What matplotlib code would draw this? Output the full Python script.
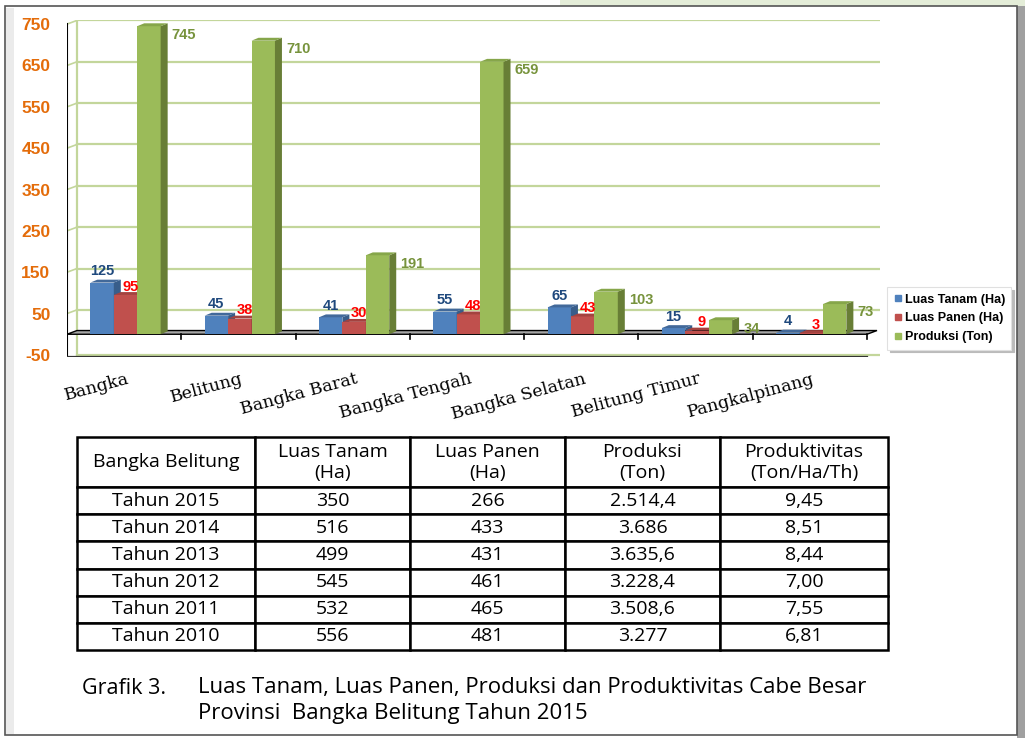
import numpy as np
import matplotlib.pyplot as plt
from matplotlib.patches import Rectangle
from matplotlib.lines import Line2D

# ---- data ----
kabupaten = ['Bangka', 'Belitung', 'Bangka Barat', 'Bangka Tengah',
             'Bangka Selatan', 'Belitung Timur', 'Pangkalpinang']
luas_tanam = [125, 45, 41, 55, 65, 15, 4]
luas_panen = [95, 38, 30, 48, 43, 9, 3]
produksi = [745, 710, 191, 659, 103, 34, 73]
series_names = ['Luas Tanam (Ha)', 'Luas Panen (Ha)', 'Produksi (Ton)']
y_ticks = [-50, 50, 150, 250, 350, 450, 550, 650, 750]

table_header = ['Bangka Belitung', 'Luas Tanam\n(Ha)', 'Luas Panen\n(Ha)',
                'Produksi\n(Ton)', 'Produktivitas\n(Ton/Ha/Th)']
tahun = ['Tahun 2015', 'Tahun 2014', 'Tahun 2013', 'Tahun 2012', 'Tahun 2011', 'Tahun 2010']
tbl_tanam = ['350', '516', '499', '545', '532', '556']
tbl_panen = ['266', '433', '431', '461', '465', '481']
tbl_produksi = ['2.514,4', '3.686', '3.635,6', '3.228,4', '3.508,6', '3.277']
tbl_produktivitas = ['9,45', '8,51', '8,44', '7,00', '7,55', '6,81']

caption_label = 'Grafik 3.'
caption_lines = ['Luas Tanam, Luas Panen, Produksi dan Produktivitas Cabe Besar',
                 'Provinsi  Bangka Belitung Tahun 2015']

# ---- styling ----
face = ['#4F81BD', '#C0504D', '#9BBB59']
side = ['#385D8A', '#8C3A38', '#687E36']
top = ['#42699A', '#A4423F', '#86A64A']
lbl_col = ['#1F497D', '#FF0000', '#77933C']
grid_col = '#C3D69B'
W, H = 1025, 738

fig = plt.figure(figsize=(W / 100, H / 100), dpi=100)
fig.patch.set_facecolor('white')

ax = fig.add_axes([67 / W, 1 - 357 / H, (880 - 67) / W, (357 - 20) / H])
ax.set_xlim(-0.5, 6.5 + 13 / 114.3)
ax.set_ylim(-55, 760)
for s in ax.spines.values():
    s.set_visible(False)

wall_dx, wall_dy = 10 / 114.3, 9
bar_dx, bar_dy = 7 / 114.3, 7
x = np.arange(len(kabupaten))
w = 0.205
offs = np.array([-1, 0, 1]) * w + 0.012

# back wall grid + left diagonals
for v in y_ticks:
    yy = v if v == -50 else v + wall_dy
    ax.plot([-0.5 + wall_dx, 6.5 + 13 / 114.3], [yy, yy], color=grid_col, lw=1.6, zorder=1)
    if v != -50:
        ax.plot([-0.5, -0.5 + wall_dx], [v, v + wall_dy], color=grid_col, lw=1.2, zorder=1)
ax.plot([-0.5 + wall_dx, -0.5 + wall_dx], [-50, 750 + wall_dy], color=grid_col, lw=1.6, zorder=1)

# front axis lines
ax.plot([-0.5, -0.5], [-55, 750], color='black', lw=1.5, zorder=2)
ax.plot([-0.5, 6.5], [-54, -54], color='#333333', lw=1.6, zorder=2)
# floor
ax.fill([-0.5, 6.5, 6.5 + wall_dx, -0.5 + wall_dx], [0, 0, wall_dy, wall_dy],
        facecolor='#A6A6A6', edgecolor='black', lw=1.0, zorder=2)
for b in np.arange(-0.5, 7, 1):
    ax.plot([b, b], [0, -12], color='black', lw=1.2, zorder=2)

ax.set_yticks(y_ticks)
ax.set_yticklabels([str(v) for v in y_ticks], color='#E46C0A', fontweight='bold',
                   fontsize=12.5, family='Liberation Sans')
ax.tick_params(axis='y', length=0, pad=12)
ax.set_xticks([])

series = [luas_tanam, luas_panen, produksi]
for k, vals in enumerate(series):
    xs = x + offs[k]
    z = 3 + k * 3
    ax.bar(xs, vals, w, color=face[k], lw=0, zorder=z)
    for xi, v in zip(xs, vals):
        l, r = xi - w / 2, xi + w / 2
        ax.fill([r, r + bar_dx, r + bar_dx, r], [0, bar_dy, v + bar_dy, v],
                color=side[k], lw=0, zorder=z + 1)
        ax.fill([l, l + bar_dx, r + bar_dx, r], [v, v + bar_dy, v + bar_dy, v],
                color=top[k], lw=0, zorder=z + 1)
        if k == 0:
            ax.annotate(str(v), (xi, v), xytext=(0, 3), textcoords='offset points',
                        ha='center', va='bottom', color=lbl_col[k], fontweight='bold',
                        fontsize=10.5, family='Liberation Sans', zorder=20)
        elif k == 1:
            ax.annotate(str(v), (xi + 0.03, v), xytext=(1, 1), textcoords='offset points',
                        ha='center', va='bottom', color=lbl_col[k], fontweight='bold',
                        fontsize=10.5, family='Liberation Sans', zorder=20)
        else:
            ax.annotate(str(v), (r + bar_dx, v), xytext=(3, -6), textcoords='offset points',
                        ha='left', va='center', color=lbl_col[k], fontweight='bold',
                        fontsize=10.5, family='Liberation Sans', zorder=20)

for xi, name in zip(x, kabupaten):
    ax.text(xi + 0.02, -0.04, name, transform=ax.get_xaxis_transform(), rotation=15,
            rotation_mode='anchor', ha='right', va='top', fontsize=12.5,
            family='DejaVu Serif', color='black')

handles = [Line2D([], [], ls='', marker='s', markersize=5, markerfacecolor=c,
                  markeredgecolor=c) for c in face]
leg = fig.legend(handles, series_names, loc='upper left',
                 bbox_to_anchor=(881 / W, 1 - 281 / H), frameon=True, fancybox=False,
                 shadow={'color': '#BBBBBB', 'alpha': 1}, handlelength=0.7,
                 handletextpad=0.2, labelspacing=0.55, borderpad=0.5,
                 prop={'family': 'Liberation Sans', 'weight': 'bold', 'size': 9})
leg.get_frame().set_edgecolor('#E0E0E0')
leg.get_frame().set_linewidth(0.8)

# ---- table ----
axt = fig.add_axes([77 / W, 1 - 650 / H, (888 - 77) / W, (650 - 437) / H])
axt.axis('off')
rows = [list(r) for r in zip(tahun, tbl_tanam, tbl_panen, tbl_produksi, tbl_produktivitas)]
tbl = axt.table(cellText=rows, colLabels=table_header, cellLoc='center',
                colWidths=[178, 155, 155, 155, 168], bbox=[0, 0, 1, 1])
tbl.auto_set_font_size(False)
for (r, c), cell in tbl.get_celld().items():
    cell.set_height(50 if r == 0 else 27)
    cell.set_linewidth(1.8)
    cell.set_edgecolor('black')
    t = cell.get_text()
    t.set_fontfamily('Open Sans')
    t.set_fontsize(14)
    t.set_linespacing(1.2)

# ---- caption ----
fig.text(82 / W, 1 - 688 / H, caption_label, ha='left', va='center',
         fontsize=15.5, family='Open Sans')
fig.text(198 / W, 1 - 688 / H, caption_lines[0], ha='left', va='center',
         fontsize=16, family='Open Sans')
fig.text(198 / W, 1 - 714 / H, caption_lines[1], ha='left', va='center',
         fontsize=16, family='Open Sans')

# ---- page frame ----
fig.patches.append(Rectangle((560 / W, 1 - 6 / H), 465 / W, 6 / H, transform=fig.transFigure,
                             facecolor='#E4EDD8', edgecolor='none', zorder=0))
fig.patches.append(Rectangle((6 / W, 4 / H), 8 / W, (730 - 4) / H, transform=fig.transFigure,
                             facecolor='#EBEBEB', edgecolor='none', zorder=0))
fig.patches.append(Rectangle((1017 / W, 0), 8 / W, 1 - 6 / H, transform=fig.transFigure,
                             facecolor='#A0A0A0', edgecolor='none', zorder=0))
fig.patches.append(Rectangle((5 / W, 3 / H), (1017 - 5) / W, (732 - 3) / H,
                             transform=fig.transFigure, fill=False,
                             edgecolor='#555555', lw=1.2, zorder=1))

fig.savefig('out.png', dpi=100)
